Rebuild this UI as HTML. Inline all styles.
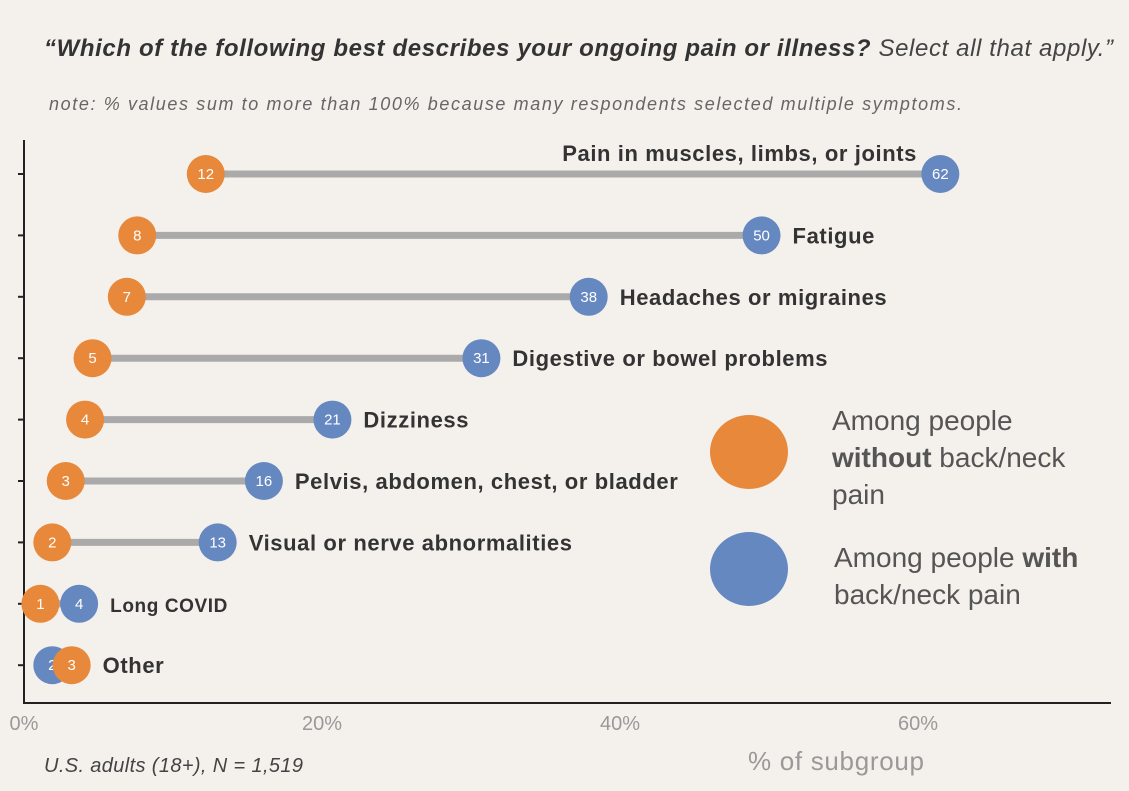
<!DOCTYPE html>
<html><head><meta charset="utf-8"><style>
body{margin:0;background:#f4f1ec;width:1129px;height:791px;overflow:hidden;font-family:"Liberation Sans",sans-serif}
svg{display:block}
</style></head><body>
<svg id="chart" width="1129" height="791" xmlns="http://www.w3.org/2000/svg">
<rect width="1129" height="791" fill="#f4f1ec"/>
<text x="44" y="56" font-size="24" fill="#333" font-style="italic" textLength="1069" lengthAdjust="spacing"><tspan font-weight="bold">“Which of the following best describes your ongoing pain or illness?</tspan><tspan fill="#444"> Select all that apply.”</tspan></text>
<text x="49" y="110" font-size="18" fill="#666" font-style="italic" textLength="913" lengthAdjust="spacing">note: % values sum to more than 100% because many respondents selected multiple symptoms.</text>
<g id="plot"></g>
<text x="44" y="772" font-size="20" fill="#444" font-style="italic" textLength="259" lengthAdjust="spacing">U.S. adults (18+), N = 1,519</text>
<text x="748" y="770" font-size="26" fill="#999" textLength="176" lengthAdjust="spacing">% of subgroup</text>
<ellipse cx="749" cy="452" rx="39" ry="37" fill="#e8883a"/>
<text font-size="28" fill="#555"><tspan x="832" y="430">Among people</tspan><tspan x="832" y="467"><tspan font-weight="bold">without</tspan> back/neck</tspan><tspan x="832" y="504">pain</tspan></text>
<ellipse cx="749" cy="569" rx="39" ry="37" fill="#6688c0"/>
<text font-size="28" fill="#555"><tspan x="834" y="567">Among people <tspan font-weight="bold">with</tspan></tspan><tspan x="834" y="604">back/neck pain</tspan></text>
</svg>
<script>
const categories=["Pain in muscles, limbs, or joints","Fatigue","Headaches or migraines","Digestive or bowel problems","Dizziness","Pelvis, abdomen, chest, or bladder","Visual or nerve abnormalities","Long COVID","Other"];
const withoutVals=[12.2,7.6,6.9,4.6,4.1,2.8,1.9,1.1,3.2];
const withVals=[61.5,49.5,37.9,30.7,20.7,16.1,13.0,3.7,1.9];
const withoutLabels=["12","8","7","5","4","3","2","1","3"];
const withLabels=["62","50","38","31","21","16","13","4","2"];
const xTicks=[0,20,40,60];

const NS="http://www.w3.org/2000/svg";
const g=document.getElementById('plot');
const x=v=>24+v*14.9;
const y=i=>174+i*61.4;
function mk(t,a,p){const e=document.createElementNS(NS,t);for(const k in a)e.setAttribute(k,a[k]);(p||g).appendChild(e);return e;}
let ax=mk('line',{x1:24,y1:140,x2:24,y2:703,stroke:'#222','stroke-width':2});


let bx=mk('line',{x1:23,y1:703,x2:1111,y2:703,stroke:'#222','stroke-width':2});


xTicks.forEach(t=>{
 const tl=mk('text',{x:x(t),y:730,'font-size':20,fill:'#999','text-anchor':'middle'});
 tl.textContent=t+'%';
 
 
});
categories.forEach((c,i)=>{
 const yy=y(i);
 const tk=mk('line',{x1:18,y1:yy,x2:24,y2:yy,stroke:'#222','stroke-width':2});
 
 
 const a=withoutVals[i],b=withVals[i];
 const ln=mk('line',{x1:x(a),y1:yy,x2:x(b),y2:yy,stroke:'#aaa','stroke-width':7});
 
 
 const order=i===8?[['with',b,withLabels[i],'#6688c0'],['without',a,withoutLabels[i],'#e8883a']]:[['without',a,withoutLabels[i],'#e8883a'],['with',b,withLabels[i],'#6688c0']];
 order.forEach(o=>{
  const ci=mk('circle',{cx:x(o[1]),cy:yy,r:19,fill:o[3]});
  
  
  const tv=mk('text',{x:x(o[1]),y:yy+5,'font-size':15,fill:'#fff','text-anchor':'middle'});
  tv.textContent=o[2];
  
  
 });
 let lab;
 if(i===0){lab=mk('text',{x:917,y:yy-13,'font-size':22,fill:'#333','font-weight':'bold','text-anchor':'end','letter-spacing':0.6});}
 else{const mx=Math.max(a,b);lab=mk('text',{x:x(mx)+31,y:yy+8,'font-size':i===7?19:22,fill:'#333','font-weight':'bold','letter-spacing':0.6});}
 lab.textContent=c;
 
 
});
</script>
</body></html>
